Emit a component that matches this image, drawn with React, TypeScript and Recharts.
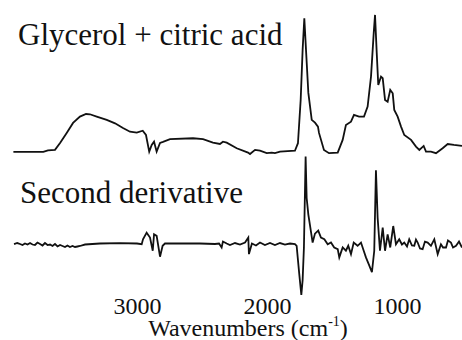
import React from 'react';
import { LineChart, Line, XAxis, YAxis } from 'recharts';

// Wavenumber axis (cm-1), drawn high -> low
const xTicks = [3000, 2000, 1000];
const xDomain = [504, 4058];

// Glycerol + citric acid spectrum (absorbance, arbitrary units)
const specWavenumbers = [
  3955, 3725, 3689, 3635, 3596, 3545, 3496, 3443, 3396, 3366, 3314, 3237, 3173, 3112, 3058,
  3006, 2960, 2935, 2910, 2891, 2873, 2853, 2827, 2804, 2750, 2573, 2496, 2420, 2366, 2343,
  2314, 2237, 2150, 2135, 2096, 2058, 2006, 1968, 1943, 1904, 1789, 1766, 1745, 1730, 1717,
  1704, 1686, 1660, 1635, 1612, 1604, 1566, 1527, 1460, 1422, 1397, 1358, 1335, 1296, 1258,
  1230, 1204, 1183, 1173, 1160, 1148, 1127, 1114, 1096, 1076, 1056, 1037, 1025, 999, 973,
  948, 896, 858, 832, 799, 781, 743, 704, 653, 614, 566, 504,
];
const specAbsorbance = [
  0.0, 0.0, 0.011, 0.015, 0.066, 0.139, 0.212, 0.258, 0.277, 0.275, 0.258, 0.234, 0.209, 0.175, 0.148,
  0.141, 0.155, 0.124, 0.002, 0.051, 0.075, 0.002, 0.066, 0.073, 0.093, 0.1, 0.093, 0.068, 0.058, 0.075,
  0.068, 0.027, -0.005, -0.015, 0.015, 0.009, -0.009, -0.005, -0.009, 0.002, 0.009, 0.064, 0.38, 0.745, 0.976,
  0.745, 0.431, 0.234, 0.214, 0.185, 0.139, 0.015, -0.009, -0.005, 0.088, 0.197, 0.221, 0.27, 0.258, 0.258,
  0.331, 0.55, 0.869, 1.0, 0.723, 0.489, 0.55, 0.538, 0.38, 0.367, 0.453, 0.428, 0.307, 0.258, 0.185,
  0.124, 0.088, 0.039, 0.015, 0.044, 0.002, 0.002, -0.009, 0.027, 0.058, 0.051, 0.044,
];

// Second derivative (arbitrary units)
const derivWavenumbers = [
  3950, 3925, 3904, 3885, 3866, 3846, 3827, 3808, 3789, 3770, 3750, 3731, 3712, 3692, 3673,
  3654, 3635, 3615, 3596, 3577, 3558, 3539, 3520, 3500, 3481, 3462, 3443, 3404,
  3289, 3135, 3004, 2968, 2958, 2930, 2904, 2891, 2883, 2873, 2853, 2827, 2807, 2789, 2673,
  2520, 2404, 2373, 2353, 2343, 2314, 2289, 2250, 2212, 2173, 2148, 2143, 2120, 2089, 2058,
  2020, 1981, 1943, 1904, 1866, 1827, 1789, 1776, 1756, 1740, 1730, 1720, 1707, 1699, 1686,
  1673, 1653, 1635, 1610, 1589, 1563, 1537, 1512, 1487, 1460, 1448, 1422, 1397, 1379, 1358,
  1337, 1307, 1281, 1260, 1243, 1217, 1197, 1179, 1166, 1153, 1135, 1114, 1096, 1076, 1056,
  1033, 1012, 987, 966, 948, 927, 910, 889, 871, 858, 845, 827, 807, 789, 768,
  743, 717, 691, 666, 650, 627, 612, 589, 573, 550, 527, 504,
];
const derivValues = [
  -0.004, 0.02, 0.0, -0.02, 0.01, -0.01, 0.02, -0.01, -0.02, 0.03, 0.0, -0.03, 0.02, -0.02, -0.01,
  -0.04, 0.0, -0.05, -0.02, -0.04, -0.06, -0.03, -0.06, -0.04, -0.06, -0.05, -0.04, -0.01,
  0.01, 0.02, 0.01, -0.004, 0.096, 0.23, 0.13, -0.036, -0.136, 0.196, 0.164, -0.256, -0.036, 0.01, 0.01,
  0.01, 0.0, 0.01, -0.07, 0.05, 0.01, -0.02, 0.02, -0.01, 0.03, 0.13, -0.204, 0.01, -0.03, 0.03,
  -0.02, 0.02, -0.02, 0.02, -0.01, 0.01, 0.0, -0.036, -0.604, -1.03, -0.73, -0.07, 1.77, 0.93, 0.596,
  0.37, 0.03, 0.21, 0.27, 0.13, 0.096, -0.004, 0.03, -0.07, -0.104, -0.27, -0.07, -0.136, -0.036, -0.204,
  0.03, -0.036, 0.03, -0.136, -0.27, -0.436, -0.57, -0.136, 1.49, 0.53, -0.136, 0.33, -0.136, 0.196, -0.07,
  0.364, -0.004, 0.096, -0.01, 0.03, -0.05, 0.096, -0.03, -0.036, 0.09, 0.03, -0.09, -0.104, 0.05, 0.03,
  -0.036, 0.096, -0.204, -0.004, -0.07, -0.07, 0.07, 0.03, -0.07, -0.036, 0.05, -0.07,
];

const spectrum = specWavenumbers.map((w, i) => ({ w, v: specAbsorbance[i] }));
const derivative = derivWavenumbers.map((w, i) => ({ w, v: derivValues[i] }));

const serif = "'Liberation Serif'";
const ink = '#111';

// force the serif face, something else keeps winning over plain attributes
const serifRef = (el: SVGTextElement | null) => {
  if (el) el.style.setProperty('font-family', serif, 'important');
};

const WaveTick = (props: any) => (
  <text
    ref={serifRef}
    x={props.x}
    y={props.y}
    dy="0.71em"
    textAnchor="middle"
    fontSize={24}
    fill={ink}
    style={{ fontFamily: serif }}
  >
    {props.payload.value}
  </text>
);

export default function App() {
  return (
    <div style={{ position: 'absolute', left: 0, top: 0, width: 462, height: 340, background: '#fff' }}>
      <LineChart width={462} height={340} margin={{ top: 0, right: 0, bottom: 0, left: 0 }}>
        <XAxis
          type="number"
          dataKey="w"
          domain={xDomain}
          reversed
          ticks={xTicks}
          interval={0}
          axisLine={false}
          tickLine={false}
          tickSize={0}
          tickMargin={2}
          height={45}
          tick={<WaveTick />}
        />
        <YAxis yAxisId="abs" hide type="number" domain={[-1.044, 1.109]} />
        <YAxis yAxisId="d2" hide type="number" domain={[-0.97, 4.93]} />
        <Line
          yAxisId="abs"
          data={spectrum}
          dataKey="v"
          type="linear"
          stroke={ink}
          strokeWidth={1.8}
          dot={false}
          activeDot={false}
          isAnimationActive={false}
        />
        <Line
          yAxisId="d2"
          data={derivative}
          dataKey="v"
          type="linear"
          stroke={ink}
          strokeWidth={1.8}
          dot={false}
          activeDot={false}
          isAnimationActive={false}
        />
      </LineChart>
      <svg
        width={462}
        height={340}
        style={{ position: 'absolute', left: 0, top: 0, pointerEvents: 'none' }}
      >
        <text ref={serifRef} x={18} y={45} fontSize={31} fill={ink} style={{ fontFamily: serif }}>
          Glycerol + citric acid
        </text>
        <text ref={serifRef} x={20} y={203} fontSize={31} fill={ink} style={{ fontFamily: serif }}>
          Second derivative
        </text>
        <text ref={serifRef} x={248} y={336} fontSize={24} fill={ink} textAnchor="middle" style={{ fontFamily: serif }}>
          Wavenumbers (cm<tspan fontSize={14} dy={-10}>-1</tspan>
          <tspan dy={10}>)</tspan>
        </text>
      </svg>
    </div>
  );
}
